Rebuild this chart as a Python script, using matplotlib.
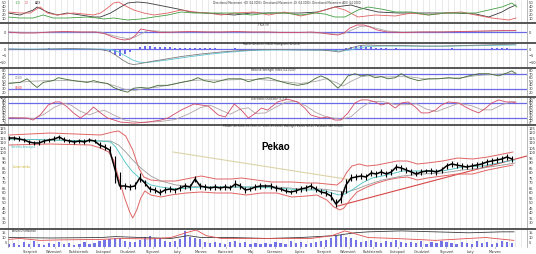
import matplotlib
matplotlib.use('Agg')
import matplotlib.pyplot as plt
from matplotlib.lines import Line2D
import numpy as np

# ---------------- data ----------------
# weekly sessions (trading-day index)
days = list(range(0, 505, 5))
close = [115,115,114,113,111,110,110,112,113,114,116,113,112,111,112,111,113,112,108,106,
         103,85,67,67,66,67,75,70,64,63,60,63,64,63,65,67,66,74,67,66,
         65,66,65,66,65,69,67,63,64,66,67,67,67,65,64,62,61,62,64,65,
         67,64,61,60,57,49,54,68,75,76,77,76,80,79,81,79,81,86,85,83,
         81,79,81,82,82,81,83,87,89,88,87,86,87,88,89,91,92,93,94,96,94]
high = [117,117,117,115,113,112,113,114,115,117,118,116,114,113,114,114,115,114,111,109,
        107,97,81,70,69,71,80,73,67,66,64,66,67,65,68,70,69,77,70,69,
        67,69,67,69,68,73,70,66,66,69,70,69,70,68,66,65,63,65,67,68,
        70,67,64,63,61,54,62,74,79,79,80,79,83,82,84,82,84,89,88,86,
        84,82,84,84,85,84,86,90,92,91,90,89,90,91,92,94,95,96,97,99,97]
low = [113,113,112,111,109,108,108,110,111,112,114,111,110,109,110,109,111,110,105,103,
       99,70,64,64,63,64,71,67,61,60,58,60,61,60,62,64,63,71,64,63,
       63,63,63,63,63,66,64,60,62,63,64,65,64,62,62,60,59,60,61,62,
       64,61,59,57,53,46,50,60,72,73,74,73,77,76,78,76,78,83,82,80,
       78,77,78,80,79,78,80,84,86,85,84,84,84,85,86,88,89,90,91,93,91]
volume = [3,4,2,5,3,6,3,2,4,3,5,3,4,2,3,5,3,4,6,7,
          8,10,9,6,5,5,7,11,12,9,10,6,5,6,8,17,11,10,8,5,
          4,5,4,3,5,6,4,5,3,4,3,4,3,5,4,3,6,4,5,3,
          4,5,6,7,9,12,13,11,10,7,5,6,7,5,4,6,5,7,5,4,
          5,4,6,3,5,4,6,5,4,3,5,4,3,6,4,5,3,4,6,5,4]
macd_hist = [0.2,0.3,0.1,-0.2,-0.4,-0.3,0.1,0.3,0.4,0.3,0.2,-0.1,-0.2,-0.1,0.1,0.0,0.1,-0.1,
             -0.6,-1.2,-2.5,-4.5,-5.5,-4.0,-2.5,-0.5,1.5,2.5,2.0,1.8,
             1.5,1.4,1.2,1.0,0.9,0.8,0.7,0.9,0.6,0.5,
             0.4,0.4,0.3,0.3,0.3,0.4,0.2,0.0,0.1,0.2,
             0.2,0.1,0.0,-0.2,-0.3,-0.4,-0.3,-0.1,0.1,0.2,
             0.2,-0.1,-0.4,-0.6,-0.9,-1.4,-0.8,0.8,1.8,2.2,
             2.0,1.6,1.2,0.8,0.6,0.4,0.3,0.5,0.3,0.1,
             -0.1,-0.3,-0.2,-0.1,0.0,0.0,0.1,0.3,0.4,0.3,
             0.2,0.1,0.1,0.2,0.2,0.3,0.4,0.4,0.4,0.5,0.3]

# Directional movement
adx_d = [-1,11,24,28,38,48,58,71,84,91,101,111,118,128,138,148,158,168,181,194,
         211,224,241,258,274,290,307,324,340,350,367,387,404,424,444,464,477,490,497,504]
adx = [22.5,17.5,30,37.5,25,17.5,22.5,17.5,12.5,12.5,22.5,37.5,47.5,50,47.5,42.5,37.5,32.5,25,22.5,
       20,17.5,22.5,22.5,22.5,22.5,25,37.5,42.5,35,25,22.5,22.5,22.5,22.5,20,12.5,25,35,42.5]
ndi_d = [-1,11,21,31,38,48,64,84,91,98,104,109,114,124,134,144,158,171,184,198,
         211,224,244,258,274,290,304,324,334,347,364,384,400,417,434,450,464,480,497,504]
ndi = [25,22.5,22.5,37.5,22.5,17.5,22.5,17.5,22.5,35,47.5,50,42.5,30,22.5,17.5,22.5,30,25,22.5,
       17.5,22.5,25,17.5,25,15,22.5,37.5,30,12.5,17.5,15,22.5,17.5,22.5,25,17.5,10,5,10]
pdi_d = [-1,11,24,34,44,58,78,88,94,104,118,131,144,158,171,184,198,211,224,241,
         258,274,290,304,314,324,334,347,357,371,384,400,417,434,450,464,477,490,500,505]
pdi = [12.5,10,10,17.5,10,10,12.5,10,7.5,10,5,7.5,12.5,17.5,25,22.5,22.5,22.5,22.5,17.5,
       22.5,22.5,17.5,22.5,20,12.5,12.5,30,37.5,32,25,25,17.5,22.5,22.5,22.5,30,37.5,47.5,37.5]

# TRIX
trix_d = [-1,11,26,41,56,71,86,96,103,109,115,121,126,131,136,141,151,166,181,196,211,226,
          241,257,271,286,301,311,321,327,333,339,346,353,359,366,376,391,411,431,451,471,491,504]
trix = [0,-0.1,-0.1,0,0.05,0,0,-0.2,-0.5,-0.7,-0.8,-0.7,-0.3,0.3,0.2,0.1,-0.05,0,0.05,0,0,0.05,
        0,0,-0.05,-0.05,0,-0.1,-0.25,-0.3,-0.1,0.4,0.7,0.7,0.5,0.2,0,-0.05,0,0,0.05,0.1,0.15,0.15]
trix_sig_d = [-1,21,51,91,101,109,117,124,131,138,146,161,191,241,291,316,326,333,341,349,357,366,376,391,431,471,504]
trix_sig = [0,-0.05,0,0,-0.3,-0.5,-0.65,-0.55,-0.2,0.15,0.1,0,0.02,0,-0.03,-0.12,-0.22,-0.15,0.2,0.55,0.6,0.35,0.1,0,0.02,0.07,0.12]

# MACD
macd_d = [-1,21,41,61,81,91,99,106,113,119,124,131,141,156,171,191,211,231,251,271,
          291,311,321,328,334,341,349,356,371,391,411,431,451,471,491,504]
macd = [0,-0.4,0,0.4,0,-0.4,-1.5,-4.5,-8.2,-10.8,-11.6,-10.8,-9.3,-7.5,-5.6,-3.7,-2.2,-1.1,-0.4,-0.4,
        -0.7,-0.7,-1.5,-2.2,-0.7,1.1,2.6,3,2.6,2.6,2.2,2.2,2.6,3,3.4,3.7]
signal_d = [-1,41,91,101,109,116,123,129,136,146,161,181,201,221,241,261,291,321,331,339,347,356,371,391,431,471,504]
signal = [0,0,0,-0.4,-2.2,-5.2,-8.2,-9.7,-10.1,-9.3,-7.8,-5.6,-3.7,-2.2,-1.1,-0.7,-0.7,-1.1,-1.5,-0.7,0.7,1.9,2.2,2.2,2.1,2.6,3.0]

# RSI
rsi_d = [-2,11,18,23,28,34,44,49,54,64,78,84,91,98,104,111,118,124,131,139,148,158,171,181,188,194,
         204,218,231,238,248,258,267,277,287,297,304,310,317,324,327,330,337,344,350,357,364,370,377,
         384,390,397,407,417,427,437,447,457,467,477,487,495,500,504]
rsi = [44,47,57,44,33,47,52,60,57,52,47,52,47,44,33,25,20,31,33,31,39,39,47,52,60,52,
       47,57,57,49,57,60,52,44,39,44,57,65,57,39,31,39,65,71,65,68,60,63,57,
       60,71,60,52,57,57,60,57,65,71,71,65,73,79,71]
rsi_sig_d = [0,20,40,60,80,95,105,115,125,135,150,165,180,195,210,230,250,270,290,305,315,325,332,
             340,350,360,375,390,400,415,430,450,465,480,495,504]
rsi_sig = [45,50,52,52,49,45,38,28,25,30,35,43,52,54,53,55,55,50,44,50,57,47,37,
           50,63,66,62,63,62,56,58,60,66,69,71,73]

# Stochastic
stk_d = [-1,8,18,24,31,39,46,51,58,64,71,78,84,91,98,111,124,138,151,158,171,184,198,208,215,224,
         231,238,244,251,257,267,277,287,294,300,310,317,324,330,337,344,350,357,364,370,377,384,
         390,397,404,410,417,424,430,437,447,454,460,467,474,480,487,494,500,504]
stk = [20,20,20,12,32,71,83,83,63,40,20,40,63,40,20,4,0,4,12,20,51,75,67,32,24,75,
       51,20,36,59,51,83,94,83,59,32,20,24,12,12,40,79,91,91,83,71,79,59,
       79,83,63,40,40,51,71,83,79,63,51,40,59,79,91,83,83,79]
std_d = [0,15,25,35,45,55,62,70,80,88,95,105,115,130,150,165,178,190,200,210,220,230,238,245,255,
         265,275,285,295,305,315,330,340,350,360,372,385,395,405,415,425,435,447,460,470,480,490,500,504]
std = [22,20,18,35,62,78,70,48,32,45,50,30,12,3,6,14,35,60,70,52,35,55,60,38,40,
       62,82,85,68,42,25,15,25,60,85,84,72,72,76,55,45,60,78,68,52,52,72,84,84]

# Bollinger bands and moving averages
bbu_d = [0,41,91,103,109,116,123,129,134,141,151,166,181,191,206,221,231,246,261,281,296,306,316,326,
         331,336,341,348,356,366,376,386,396,406,416,431,446,461,476,491,501]
bb_upper = [118,120,118,121,122,117,103,85,76,73,72,72,75,77,74,74,75,73,71,71,70,70,69,68,
            72,81,87,89,87,88,90,92,92,89,90,92,95,94,96,99,101]
bbl_d = [0,41,81,91,99,104,109,115,120,123,127,131,135,141,151,161,176,191,206,221,236,251,266,281,
         296,306,316,323,329,333,339,346,356,366,376,386,396,406,416,431,446,461,476,491,501]
bb_lower = [108,109,108,105,101,93,75,55,41,35,43,55,62,58,56,58,60,61,60,60,58,60,60,56,
            57,58,53,46,43,45,53,61,66,70,73,75,76,73,75,77,79,79,83,86,88]
ma_d = [-1,41,91,101,106,111,116,123,131,141,151,166,191,216,241,266,291,311,321,328,334,341,351,
        361,376,391,411,431,451,471,491,503]
ma_short = [114,113,112,111,106,98,90,81,74,68,66,64,66,66,66,65,63,63,60,58,59,63,70,
            75,78,82,82,82,86,87,91,93]
mal_d = [-1,41,91,101,109,116,123,131,141,151,166,191,216,241,266,291,311,326,336,346,356,371,
         391,411,431,451,471,491,503]
ma_long = [114,113,112,112,108,101,93,85,77,72,68,66,66,66,66,64,64,62,61,64,68,73,
           77,79,80,83,85,88,90]
trend_red_d = [327, 515]
trend_red = [47, 97]
trend_pale_d = [163, 341]
trend_pale = [101, 73]

# Accumulation / distribution lines
ad_d = [-1,41,91,106,131,161,178,191,221,257,290,324,344,357,390,424,457,490,502]
ad_line = [10,9.5,10,11,10,9,12,10,10,9,10,12,15,16,17,16,15,16,16]
adr_d = [-1,11,31,51,91,111,141,161,176,186,196,211,257,300,321,334,344,357,384,424,457,474,502]
ad_red = [8,9,7,7.5,8,9,8.5,10,15,18,12,9,9,9,12,17,14,10,9,7,9,10,7]

months = ['Sierpień','Wrzesień','Październik','Listopad','Grudzień','Styczeń','Luty','Marzec',
          'Kwiecień','Maj','Czerwiec','Lipiec','Sierpień','Wrzesień','Październik','Listopad',
          'Grudzień','Styczeń','Luty','Marzec']

# ---------------- figure ----------------
W, H = 536, 254
fig = plt.figure(figsize=(W/100, H/100), dpi=100)
fig.patch.set_facecolor('white')
XL, XR = 8, 527
XLIM = (-1, 515)
BLUE = '#6a6ae8'
FS = 2.6

def make_ax(top, bottom, ylim, yticks, ylabels=None):
    ax = fig.add_axes([XL/W, 1-bottom/H, (XR-XL)/W, (bottom-top)/H])
    ax.set_xlim(*XLIM)
    ax.set_ylim(*ylim)
    ax.set_facecolor('white')
    for g in np.arange(3, 515, 6.1):
        ax.axvline(g, color='#dcdcdc', lw=0.45, zorder=0)
    for s in ['top', 'bottom']:
        ax.spines[s].set_visible(False)
    for s in ['left', 'right']:
        ax.spines[s].set_color('#9a9a9a')
        ax.spines[s].set_linewidth(0.5)
    ax.set_yticks(yticks)
    if ylabels is not None:
        ax.set_yticklabels(ylabels)
    ax.tick_params(axis='y', labelsize=FS, length=0, pad=1, labelleft=True, labelright=True,
                   colors='#333333')
    ax.set_xticks([])
    return ax

def ftext(x, y, s, **kw):
    fig.text(x/W, 1-y/H, s, **kw)

# Panel 1: DMI
ax1 = make_ax(0, 22, (0, 55), [10, 20, 30, 40, 50])
ax1.plot(adx_d, adx, color='#3a3a3a', lw=0.6)
ax1.plot(ndi_d, ndi, color='#e06060', lw=0.6)
ax1.plot(pdi_d, pdi, color='#45a045', lw=0.6)
ftext(15, 4, '+DI', fontsize=2.2, color='#45a045')
ftext(25, 4, '-DI', fontsize=2.2, color='#e06060')
ftext(35, 4, 'ADX', fontsize=2.2, color='#222222')
ftext(213, 2.6, 'Directional Movement +DI (14.0000), Directional Movement -DI (14.0000), Directional Movement ADX (14.0000)',
      fontsize=1.9, color='#333333', va='center')

# Panel 2: TRIX
ax2 = make_ax(23, 42, (-1.0, 0.9), [0])
ax2.axhline(0, color=BLUE, lw=0.9)
ax2.plot(trix_sig_d, trix_sig, color='#a8a8a8', lw=0.6)
ax2.plot(trix_d, trix, color='#d24a66', lw=0.6)
ftext(258, 25, 'TRIX (9)', fontsize=2.0, color='#333333', va='center')

# Panel 3: MACD
ax3 = make_ax(43, 67, (-13.4, 4.5), [0, -5, -10])
ax3.axhline(0, color=BLUE, lw=0.9)
ax3.bar(days, macd_hist, width=2.0, color=BLUE, lw=0)
ax3.plot(signal_d, signal, color='#5fc3d3', lw=0.6)
ax3.plot(macd_d, macd, color='#7d7d7d', lw=0.6)
ftext(243, 44.5, 'MACD (12,26,9), MACD Histogram (12,26,9)', fontsize=1.9, color='#333333', va='center')

# Panel 4: RSI
ax4 = make_ax(68, 96, (9.5, 86.8), [20, 30, 40, 50, 60, 70, 80])
ax4.axhline(70, color=BLUE, lw=0.9)
ax4.axhline(30, color=BLUE, lw=0.9)
ax4.plot(rsi_sig_d, rsi_sig, color='#a8a8a8', lw=0.6)
ax4.plot(rsi_d, rsi, color='#466a34', lw=0.6)
ftext(251, 69.5, 'Relative Strength Index (14.0000)', fontsize=1.9, color='#333333', va='center')
ftext(15, 78, '70.00', fontsize=2.0, color='#777777', va='center')
ftext(15, 88, '30.00', fontsize=2.0, color='#e02020', va='center')

# Panel 5: Stochastic
ax5 = make_ax(97, 124, (-3.5, 102.4), [0, 10, 20, 30, 40, 50, 60, 70, 80, 90, 100])
ax5.axhline(80, color=BLUE, lw=0.9)
ax5.axhline(20, color=BLUE, lw=0.9)
ax5.plot(std_d, std, color='#b4a4a4', lw=0.6)
ax5.plot(stk_d, stk, color='#d24a66', lw=0.6)
ftext(251, 98.5, 'Stochastic Oscillator (5,3,3)', fontsize=1.9, color='#333333', va='center')

# Panel 6: Price
ax6 = make_ax(125, 228, (25, 128), list(range(30, 128, 5)))
ax6.plot(trend_pale_d, trend_pale, color='#dcd4a8', lw=0.8)
ax6.plot(trend_red_d, trend_red, color='#d64848', lw=0.8)
ax6.plot(bbu_d, bb_upper, color='#e26464', lw=0.7)
ax6.plot(bbl_d, bb_lower, color='#e26464', lw=0.7)
ax6.plot(mal_d, ma_long, color='#9a9a9a', lw=0.6)
ax6.plot(ma_d, ma_short, color='#48c4c4', lw=0.6)
ax6.vlines(days, low, high, color='black', lw=0.8)
ax6.plot(days, close, color='black', lw=1.1)
ftext(223, 126.5, 'PEKAO (68.5000, 69.7500, 67.5000, 69.0000), Bollinger Bands (20,2), Parabolic SAR (0.020)',
      fontsize=1.9, color='#333333', va='center')
ax6.text(251, 106, 'Pekao', fontsize=7, fontweight='bold', family='Liberation Sans',
         ha='left', va='center', color='black')
ftext(11, 147, 'Średnia krocząca', fontsize=2.1, color='#3fb8b8', va='center')
ftext(13, 167, 'Linia trendu', fontsize=2.1, color='#c8b020', va='center')

# Panel 7: Volume / AD
ax7 = make_ax(229, 247, (0, 19), [5, 10, 15], ['5', '10', '15'])
ax7.bar(days, volume, width=2.2, color='#7373e6', lw=0)
ax7.plot(ad_d, ad_line, color='#3a3a3a', lw=0.6)
ax7.plot(adr_d, ad_red, color='#e05050', lw=0.6)
ftext(12, 231.5, 'Accum/Distribution', fontsize=1.9, color='#333333', va='center')
mpos = [21 + 24.35*k for k in range(len(months))]
ax7.set_xticks(mpos)
ax7.set_xticklabels(months)
ax7.tick_params(axis='x', labelsize=2.6, length=1, width=0.4, pad=1.5, colors='#333333')

# separators
for y in [22.5, 42.5, 67.5, 96.5, 124.5, 228.5]:
    fig.add_artist(Line2D([0, 1], [1-y/H, 1-y/H], color='#555555', lw=1.4))

fig.savefig('out.png', dpi=100, facecolor='white')
